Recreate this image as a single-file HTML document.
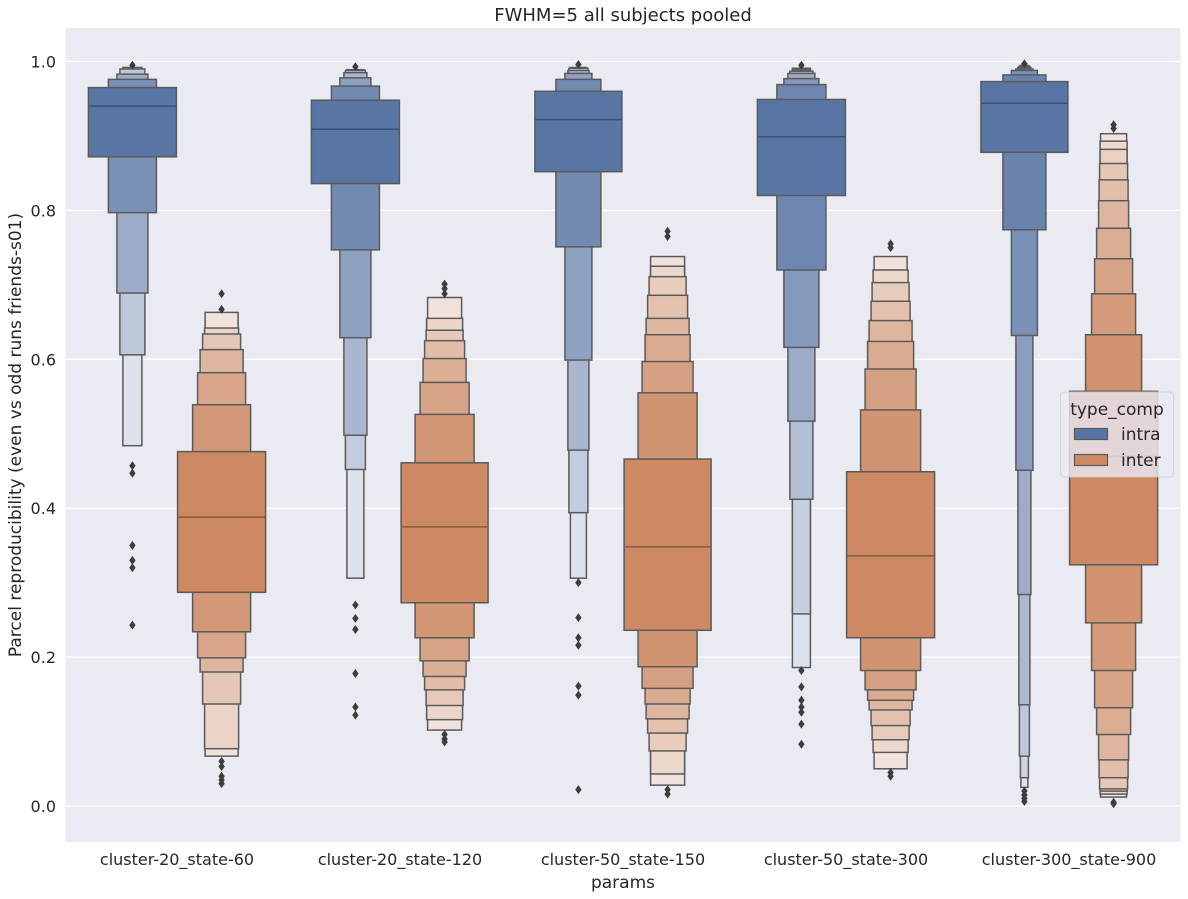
<!DOCTYPE html>
<html><head><meta charset="utf-8">
<style>
html,body{margin:0;padding:0;background:#fff;}
svg{display:block;font-family:"DejaVu Sans","Liberation Sans",sans-serif;}
</style></head>
<body>
<svg id="chart" width="1188" height="899" viewBox="0 0 1188 899" xmlns="http://www.w3.org/2000/svg">
<rect x="65.5" y="28" width="1115" height="814" fill="#eaeaf2"/>
<g id="grid"></g>
<g id="marks"></g>
<g id="ticks"></g>
<text x="623" y="21" text-anchor="middle" font-size="18" fill="#262626">FWHM=5 all subjects pooled</text>
<text x="623" y="888" text-anchor="middle" font-size="17" fill="#262626">params</text>
<text transform="translate(21,435) rotate(-90)" text-anchor="middle" font-size="17" fill="#262626">Parcel reproducibility (even vs odd runs friends-s01)</text>
<g>
  <rect x="1060.5" y="392" width="113" height="85" rx="4" fill="#eaeaf2" fill-opacity="0.8" stroke="#cccccc" stroke-opacity="0.8"/>
  <text x="1117" y="415" text-anchor="middle" font-size="17" fill="#262626">type_comp</text>
  <rect x="1074.5" y="428.5" width="33" height="11" fill="#5975a4" stroke="#595959" stroke-width="1.2"/>
  <text x="1121" y="440" font-size="17" fill="#262626">intra</text>
  <rect x="1074.5" y="454.5" width="33" height="11" fill="#cc8963" stroke="#595959" stroke-width="1.2"/>
  <text x="1121" y="466" font-size="17" fill="#262626">inter</text>
</g>
</svg>
<script>
const categories = ["cluster-20_state-60","cluster-20_state-120","cluster-50_state-150","cluster-50_state-300","cluster-300_state-900"];
const yTicks = [0.0, 0.2, 0.4, 0.6, 0.8, 1.0];
const yTickLabels = ["0.0","0.2","0.4","0.6","0.8","1.0"];

const intraLevels = [
  [[0.872,0.965],[0.797,0.976],[0.689,0.983],[0.606,0.990],[0.484,0.992]],
  [[0.836,0.948],[0.747,0.967],[0.629,0.978],[0.498,0.985],[0.452,0.988],[0.306,0.989]],
  [[0.852,0.960],[0.751,0.976],[0.599,0.984],[0.478,0.988],[0.394,0.991],[0.306,0.992]],
  [[0.820,0.949],[0.720,0.969],[0.616,0.977],[0.517,0.984],[0.412,0.987],[0.258,0.989],[0.186,0.991]],
  [[0.878,0.973],[0.774,0.982],[0.632,0.988],[0.451,0.990],[0.284,0.992],[0.136,0.993],[0.067,0.994],[0.038,0.994],[0.025,0.995]]
];
const intraMedians = [0.940, 0.909, 0.922, 0.899, 0.944];
const intraOutliers = [
  [0.995,0.457,0.447,0.350,0.330,0.320,0.243],
  [0.993,0.270,0.252,0.237,0.178,0.133,0.122],
  [0.996,0.300,0.253,0.226,0.216,0.161,0.149,0.022],
  [0.995,0.182,0.160,0.142,0.133,0.126,0.110,0.083],
  [0.997,0.020,0.015,0.010,0.006]
];
const interLevels = [
  [[0.287,0.476],[0.234,0.539],[0.199,0.582],[0.180,0.613],[0.137,0.634],[0.077,0.642],[0.067,0.663]],
  [[0.273,0.461],[0.226,0.526],[0.195,0.569],[0.174,0.601],[0.156,0.625],[0.135,0.639],[0.116,0.655],[0.102,0.683]],
  [[0.236,0.466],[0.187,0.555],[0.158,0.597],[0.137,0.633],[0.117,0.655],[0.098,0.686],[0.074,0.711],[0.043,0.725],[0.028,0.738]],
  [[0.226,0.449],[0.182,0.532],[0.156,0.587],[0.142,0.624],[0.129,0.652],[0.108,0.678],[0.089,0.703],[0.072,0.720],[0.050,0.738]],
  [[0.324,0.557],[0.246,0.633],[0.182,0.688],[0.132,0.735],[0.096,0.776],[0.062,0.813],[0.038,0.841],[0.023,0.863],[0.020,0.882],[0.016,0.893],[0.012,0.903]]
];
const interMedians = [0.388, 0.375, 0.348, 0.336, 0.470];
const interOutliers = [
  [0.667,0.688,0.060,0.053,0.040,0.035,0.030],
  [0.688,0.695,0.701,0.096,0.090,0.086],
  [0.765,0.772,0.022,0.016],
  [0.750,0.755,0.045,0.040],
  [0.910,0.915,0.005,0.003]
];

// styling: box widths (px) per level, innermost first
const intraWidths = [[88,48,31,25,19],[88,48,31,23,20,17],[87,45,27,21,19,16],[88,49,35,27,23,18,18],[87,43,26,17,13,11,10,8,7]];
const interWidths = [[88,58,48,43,38,34,33],[87,59,49,43,40,37,36,34],[87,59,51,45,43,40,37,34,34],[88,60,51,46,43,39,37,35,33],[88,56,44,38,34,30,29,28,27,27,26]];

const NS = "http://www.w3.org/2000/svg";
const X0 = 65.5, X1 = 1180.5, Y0 = 806, PX = 744.5;
const band = (X1 - X0) / categories.length;
function xScale(i){ return X0 + band * (i + 0.5); }
function yScale(v){ return Y0 - v * PX; }

function mk(tag, attrs, parent){
  const el = document.createElementNS(NS, tag);
  for (const k in attrs) el.setAttribute(k, attrs[k]);
  parent.appendChild(el);
  return el;
}
function mix(c, w, t){
  return "rgb(" + c.map((v,j)=>Math.round(v*(1-t)+w[j]*t)).join(",") + ")";
}

const grid = document.getElementById("grid");
const ticks = document.getElementById("ticks");
const marks = document.getElementById("marks");

yTicks.forEach((v,i)=>{
  const ln = mk("line", {x1:X0, x2:X1, y1:yScale(v), y2:yScale(v), stroke:"#ffffff", "stroke-width":1.3}, grid);
  
  
  const t = mk("text", {x:56, y:yScale(v)+6, "text-anchor":"end", "font-size":16, fill:"#262626"}, ticks);
  t.textContent = yTickLabels[i];
  
  
});
categories.forEach((c,i)=>{
  const t = mk("text", {x:xScale(i), y:865, "text-anchor":"middle", "font-size":16, fill:"#262626"}, ticks);
  t.textContent = c;
  
  
});

function drawBoxen(levels, median, outliers, widths, cx, base, white, medColor, hue){
  const k = levels.length;
  const g = mk("g", {}, marks);
  
  
  for (let i = k-1; i >= 0; i--){
    const lo = levels[i][0], hi = levels[i][1];
    const w = widths[i] !== undefined ? widths[i] : widths[widths.length-1];
    const t = k > 1 ? 0.9 * i / (k-1) : 0;
    const r = mk("rect", {x:cx - w/2, y:yScale(hi), width:w, height:yScale(lo)-yScale(hi),
      fill:mix(base, white, t), stroke:"#5a5a5a", "stroke-width":1.5}, g);
    
    
  }
  const w0 = widths[0];
  const m = mk("line", {x1:cx - w0/2, x2:cx + w0/2, y1:yScale(median), y2:yScale(median), stroke:medColor, "stroke-width":1.5}, g);
  
  
  outliers.forEach(v=>{
    const y = yScale(v);
    const d = mk("path", {d:`M${cx},${y-4.5} L${cx+3.2},${y} L${cx},${y+4.5} L${cx-3.2},${y} Z`, fill:"#3d3d3d"}, g);
    
    
  });
}

const off = band * 0.2;
categories.forEach((c,i)=>{
  drawBoxen(intraLevels[i], intraMedians[i], intraOutliers[i], intraWidths[i], xScale(i)-off, [89,117,164], [236,238,244], "#3e4f6f", "intra");
  drawBoxen(interLevels[i], interMedians[i], interOutliers[i], interWidths[i], xScale(i)+off, [204,137,99], [245,237,232], "#8a5c42", "inter");
});
</script>
</body></html>
